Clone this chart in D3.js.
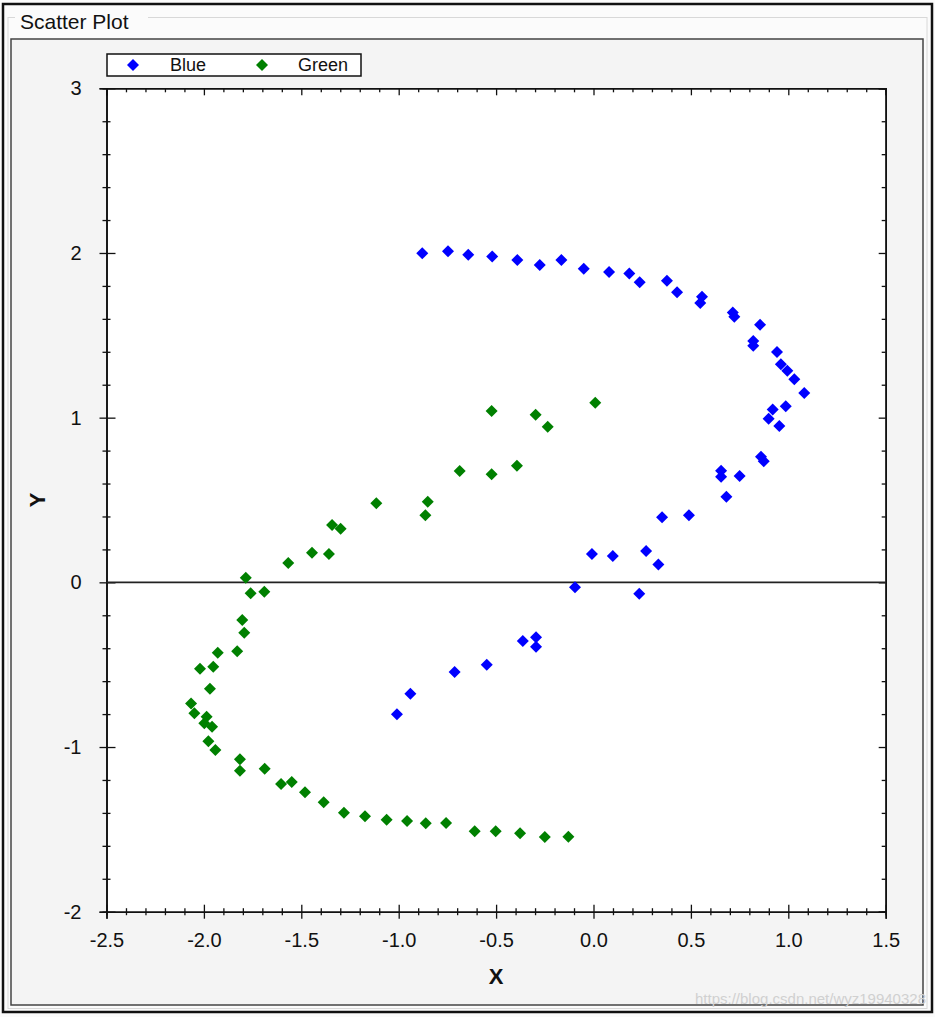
<!DOCTYPE html>
<html>
<head>
<meta charset="utf-8">
<script src="https://cdn.jsdelivr.net/npm/d3@7"></script>
<style>
  body { margin: 0; background: #fff; }
  text { font-family: Arial, "Liberation Sans", sans-serif; }
</style>
</head>
<body>
<script>
// data
var blueX = [-0.879, -0.747, -0.643, -0.520, -0.391, -0.276, -0.165, -0.050, 0.080, 0.184,
             0.237, 0.377, 0.429, 0.557, 0.548, 0.715, 0.723, 0.855, 0.820, 0.820,
             0.942, 0.962, 0.995, 1.031, 1.082, 0.987, 0.920, 0.899, 0.954, 0.860,
             0.874, 0.655, 0.655, 0.750, 0.682, 0.352, 0.490, -0.008, 0.099, 0.270,
             0.333, -0.095, 0.235, -0.363, -0.295, -0.295, -0.548, -0.713, -0.940, -1.009];
var blueY = [1.998, 2.010, 1.989, 1.979, 1.957, 1.927, 1.957, 1.904, 1.884, 1.876,
             1.822, 1.831, 1.761, 1.734, 1.696, 1.639, 1.613, 1.564, 1.465, 1.437,
             1.398, 1.325, 1.285, 1.233, 1.149, 1.070, 1.050, 0.993, 0.949, 0.763,
             0.735, 0.678, 0.641, 0.645, 0.520, 0.396, 0.407, 0.172, 0.160, 0.190,
             0.109, -0.030, -0.069, -0.356, -0.334, -0.391, -0.500, -0.545, -0.676, -0.801];

var greenX = [0.009, -0.523, -0.297, -0.235, -0.393, -0.523, -0.687, -0.851, -0.863, -1.115,
              -1.342, -1.298, -1.445, -1.358, -1.567, -1.785, -1.760, -1.690, -1.803, -1.793,
              -1.929, -1.829, -2.020, -1.952, -1.969, -2.066, -2.049, -1.986, -1.998, -1.958,
              -1.977, -1.941, -1.815, -1.815, -1.688, -1.604, -1.549, -1.481, -1.385, -1.281,
              -1.173, -1.062, -0.957, -0.861, -0.757, -0.610, -0.502, -0.377, -0.250, -0.129];
var greenY = [1.091, 1.040, 1.018, 0.945, 0.708, 0.656, 0.676, 0.490, 0.407, 0.480,
              0.348, 0.325, 0.180, 0.172, 0.117, 0.028, -0.067, -0.057, -0.229, -0.306,
              -0.427, -0.419, -0.525, -0.512, -0.646, -0.735, -0.795, -0.816, -0.856, -0.877,
              -0.965, -1.018, -1.075, -1.144, -1.132, -1.225, -1.213, -1.275, -1.336, -1.399,
              -1.421, -1.441, -1.449, -1.463, -1.461, -1.512, -1.512, -1.524, -1.546, -1.545];

var seriesNames = ["Blue", "Green"];
var seriesColors = ["#0000ff", "#008000"];
var xTicks = [-2.5, -2.0, -1.5, -1.0, -0.5, 0.0, 0.5, 1.0, 1.5];
var yTicks = [-2, -1, 0, 1, 2, 3];

var w = 935, h = 1017;
var plotL = 106.5, plotR = 885.7, plotT = 88.3, plotB = 911.7;

var svg = d3.select("body").append("svg")
    .attr("width", w)
    .attr("height", h);

// window frame
svg.append("rect").attr("x", 0).attr("y", 0).attr("width", w).attr("height", h).attr("fill", "#fbfbfb");
svg.append("rect").attr("x", 3).attr("y", 4).attr("width", 929).attr("height", 1008)
    .attr("fill", "none").attr("stroke", "#111").attr("stroke-width", 2.5);
// group box
svg.append("rect").attr("x", 8).attr("y", 17.5).attr("width", 919).attr("height", 991)
    .attr("fill", "none").attr("stroke", "#d8d8d8").attr("stroke-width", 1);
svg.append("rect").attr("x", 15).attr("y", 8).attr("width", 133).attr("height", 20).attr("fill", "#fbfbfb");
svg.append("text").text("Scatter Plot")
    .attr("x", 20).attr("y", 29)
    .style("font-size", "21px").attr("fill", "#111");

// chart panel
svg.append("rect").attr("x", 11).attr("y", 39).attr("width", 912).attr("height", 966)
    .attr("fill", "#f4f4f4").attr("stroke", "#444").attr("stroke-width", 1.5);

var x = d3.scaleLinear().domain([-2.5, 1.5]).range([plotL, plotR]);
var y = d3.scaleLinear().domain([-2, 3]).range([plotB, plotT]);

svg.append("rect")
    .attr("x", x(-2.5)).attr("y", y(3))
    .attr("width", x(1.5) - x(-2.5)).attr("height", y(-2) - y(3))
    .attr("fill", "#fff");

var xMinor = d3.range(-25, 16).map(function(d) { return d / 10; })
    .filter(function(d) { return Math.abs(d * 2 - Math.round(d * 2)) > 1e-6; });
var yMinor = d3.range(-10, 16).map(function(d) { return d / 5; })
    .filter(function(d) { return Math.abs(d - Math.round(d)) > 1e-6; });

function crossTicks(g, horiz, inner, outer) {
    g.selectAll(".tick line").each(function() {
        var l = d3.select(this);
        if (horiz) l.attr("y1", -inner).attr("y2", outer);
        else l.attr("x1", inner).attr("x2", -outer);
    });
}
var fmtX = function(d) { return d.toFixed(1); };
var fmtY = function(d) { return String(d); };

// bottom axis
var gxMinor = svg.append("g").attr("transform", "translate(0," + plotB + ")")
    .call(d3.axisBottom(x).tickValues(xMinor).tickSize(3.5).tickFormat(""));
crossTicks(gxMinor, true, 3.5, 3.5);
var gx = svg.append("g").attr("transform", "translate(0," + plotB + ")")
    .call(d3.axisBottom(x).tickValues(xTicks).tickSize(7).tickPadding(14).tickFormat(fmtX));
crossTicks(gx, true, 7, 7);
gx.selectAll("text").style("font-size", "20px").attr("fill", "#111");

// left axis
var gyMinor = svg.append("g").attr("transform", "translate(" + plotL + ",0)")
    .call(d3.axisLeft(y).tickValues(yMinor).tickSize(4).tickFormat(""));
crossTicks(gyMinor, false, 4, 4);
var gy = svg.append("g").attr("transform", "translate(" + plotL + ",0)")
    .call(d3.axisLeft(y).tickValues(yTicks).tickSize(7).tickPadding(18).tickFormat(fmtY));
crossTicks(gy, false, 9, 7);
gy.selectAll("text").style("font-size", "20px").attr("fill", "#111");

// top and right axes, inward ticks only
svg.append("g").attr("transform", "translate(0," + plotT + ")")
    .call(d3.axisBottom(x).tickValues(xMinor).tickSize(4).tickFormat(""));
svg.append("g").attr("transform", "translate(0," + plotT + ")")
    .call(d3.axisBottom(x).tickValues(xTicks).tickSize(7).tickFormat(""));
svg.append("g").attr("transform", "translate(" + plotR + ",0)")
    .call(d3.axisLeft(y).tickValues(yMinor).tickSize(4).tickFormat(""));
svg.append("g").attr("transform", "translate(" + plotR + ",0)")
    .call(d3.axisLeft(y).tickValues(yTicks).tickSize(7).tickFormat(""));

svg.selectAll(".domain").attr("stroke", "#111").attr("stroke-width", 1.6);
svg.selectAll(".tick line").attr("stroke", "#111").attr("stroke-width", 1.3);

// zero line
svg.append("line")
    .attr("x1", x(-2.5)).attr("x2", x(1.5))
    .attr("y1", y(0)).attr("y2", y(0))
    .attr("stroke", "#222").attr("stroke-width", 1.6);

// axis titles
svg.append("text").text("X")
    .attr("x", (plotL + plotR) / 2).attr("y", 984)
    .attr("text-anchor", "middle")
    .style("font-size", "22px").style("font-weight", "bold").attr("fill", "#111");
svg.append("text").text("Y")
    .attr("transform", "translate(45," + ((plotT + plotB) / 2) + ") rotate(-90)")
    .attr("text-anchor", "middle")
    .style("font-size", "22px").style("font-weight", "bold").attr("fill", "#111");

// markers
var diamond = d3.symbol().type(d3.symbolSquare).size(72);
function drawSeries(xs, ys, color) {
    svg.append("g").selectAll("path")
        .data(d3.zip(xs, ys))
        .enter()
        .append("path")
        .attr("d", diamond)
        .attr("transform", function(d) {
            return "translate(" + x(d[0]) + "," + y(d[1]) + ") rotate(45)";
        })
        .attr("fill", color);
}
drawSeries(blueX, blueY, seriesColors[0]);
drawSeries(greenX, greenY, seriesColors[1]);

// legend
var legend = svg.append("g");
legend.append("rect")
    .attr("x", 107).attr("y", 54).attr("width", 254).attr("height", 22)
    .attr("fill", "#fff").attr("stroke", "#111").attr("stroke-width", 1.5);
var legendPos = [[133, 170], [262, 298]];
seriesNames.forEach(function(name, i) {
    legend.append("path")
        .attr("d", diamond)
        .attr("transform", "translate(" + legendPos[i][0] + ",65) rotate(45)")
        .attr("fill", seriesColors[i]);
    legend.append("text").text(name)
        .attr("x", legendPos[i][1]).attr("y", 71)
        .style("font-size", "18px").attr("fill", "#111");
});

// watermark
svg.append("text").text("https://blog.csdn.net/wyz19940328")
    .attr("x", 926).attr("y", 1004)
    .attr("text-anchor", "end")
    .style("font-size", "15px")
    .attr("fill", "#d0d0d0");
</script>
</body>
</html>
